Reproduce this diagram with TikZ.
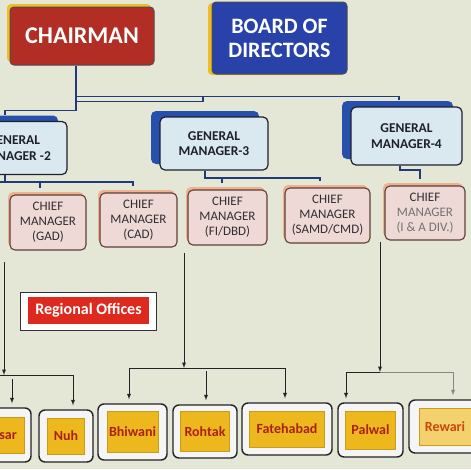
\documentclass[tikz,border=0pt]{standalone}
\usepackage{fontspec}
\setmainfont{Carlito}
\usetikzlibrary{shadows}

\definecolor{wall}{RGB}{229,231,214}
\definecolor{chairred}{RGB}{178,46,36}
\definecolor{boardblue}{RGB}{40,66,170}
\definecolor{shadeyellow}{RGB}{238,190,40}
\definecolor{gmfill}{RGB}{218,233,240}
\definecolor{gmshade}{RGB}{38,80,172}
\definecolor{gmtext}{RGB}{30,32,45}
\definecolor{navy}{RGB}{32,58,122}
\definecolor{cmfill}{RGB}{238,217,214}
\definecolor{cmshade}{RGB}{236,178,146}
\definecolor{cmline}{RGB}{95,62,55}
\definecolor{cmtext}{RGB}{50,45,50}
\definecolor{rored}{RGB}{222,42,30}
\definecolor{roffill}{RGB}{236,184,30}
\definecolor{roftext}{RGB}{172,32,22}
\definecolor{ink}{RGB}{35,35,35}

\tikzset{
  chairbox/.style={draw=black!70, line width=1pt, rounded corners=4pt, fill=chairred, text=white,
    font=\bfseries\fontsize{24}{26}\selectfont, minimum width=144pt, minimum height=58pt,
    general shadow={fill=shadeyellow, shadow xshift=-3pt, shadow yshift=3pt}},
  boardbox/.style={draw=black!70, line width=1pt, rounded corners=4pt, fill=boardblue, text=white, align=center,
    font=\bfseries\fontsize{22}{24}\selectfont, minimum width=135pt, minimum height=72pt,
    general shadow={fill=shadeyellow, shadow xshift=-4pt, shadow yshift=-1pt}},
  gmbox/.style={draw=gmtext, line width=1.2pt, rounded corners=5pt, fill=gmfill, text=gmtext, align=center,
    font=\bfseries\fontsize{13.5}{15.5}\selectfont, minimum height=53pt,
    general shadow={fill=gmshade, shadow xshift=-9pt, shadow yshift=6pt}},
  cmbox/.style={draw=cmline, line width=1.1pt, rounded corners=5pt, fill=cmfill, text=cmtext, align=center,
    font=\fontsize{13}{15}\selectfont, minimum height=55pt, inner sep=2pt,
    general shadow={fill=cmshade, shadow xshift=-2pt, shadow yshift=3pt}},
  roframe/.style={draw=black!80, line width=1pt, fill=white, minimum width=136pt, minimum height=38pt},
  rolabel/.style={fill=rored, text=white, font=\bfseries\fontsize{16}{18}\selectfont,
    minimum width=121pt, minimum height=27pt, inner sep=0pt},
  office/.style={draw=ink, line width=1.4pt, rounded corners=6pt, fill=white!96!black},
  officein/.style={draw=roffill!85!black, line width=0.4pt, fill=roffill, text=roftext,
    font=\bfseries\fontsize{14}{16}\selectfont, inner sep=0pt},
  link/.style={draw=navy, line width=1.8pt},
  trunk/.style={->, draw=ink, line width=0.9pt},
  feed/.style={->, draw=ink, line width=0.9pt, shorten >=4pt}
}

\begin{document}
\begin{tikzpicture}[x=1pt, y=-1pt, >=latex]
\useasboundingbox (0,0) rectangle (471,469);
\fill [wall] (0,0) rectangle (471,469);
\clip (0,0) rectangle (471,469);

% top row
\node [chairbox] (chair) at (82,36) {CHAIRMAN};
\node [boardbox] (board) at (279.5,38) {BOARD OF\\DIRECTORS};

% general managers
\node [gmbox, minimum width=106pt] (gm2) at (14,148) {GENERAL\\MANAGER -2};
\node [gmbox, minimum width=108pt] (gm3) at (214,143.5) {GENERAL\\MANAGER-3};
\node [gmbox, minimum width=111pt, minimum height=58pt] (gm4) at (406.5,136) {GENERAL\\MANAGER-4};

% chief managers
\node [cmbox, minimum width=76pt] (cmgad) at (48,222.5) {CHIEF\\MANAGER\\(GAD)};
\node [cmbox, minimum width=77pt, minimum height=54pt] (cmcad) at (138.5,220) {CHIEF\\MANAGER\\(CAD)};
\node [cmbox, minimum width=79pt] (cmfi) at (227.5,217.5) {CHIEF\\MANAGER\\(FI/DBD)};
\node [cmbox, minimum width=85pt] (cmsamd) at (327.5,215.5) {CHIEF\\MANAGER\\(SAMD/CMD)};
\node [cmbox, minimum width=80pt, minimum height=54pt] (cmia) at (425,213) {CHIEF\\{\color{black!55}MANAGER}\\{\color{black!55}(I \& A DIV.)}};

% label
\node [roframe] (roframe) at (88,311) {};
\node [rolabel] (ro) at (88.5,310.5) {Regional Offices};

% regional offices
\node [office, minimum width=58pt, minimum height=54pt] (hisar) at (2,435) {};
\node [officein, minimum width=44pt, minimum height=36pt] (hisartext) at (hisar) {Hisar};
\node [office, minimum width=54pt, minimum height=52pt] (nuh) at (66,436) {};
\node [officein, minimum width=37pt, minimum height=36pt] (nuhtext) at (nuh) {Nuh};
\node [office, minimum width=69pt, minimum height=56pt] (bhiwani) at (132.5,432) {};
\node [officein, minimum width=51pt, minimum height=41pt] (bhiwanitext) at (bhiwani) {Bhiwani};
\node [office, minimum width=64pt, minimum height=53pt] (rohtak) at (205,431.5) {};
\node [officein, minimum width=49pt, minimum height=40pt] (rohtaktext) at (rohtak) {Rohtak};
\node [office, minimum width=90pt, minimum height=52pt] (fatehabad) at (287,429) {};
\node [officein, minimum width=75pt, minimum height=36pt] (fatehabadtext) at (fatehabad) {Fatehabad};
\node [office, minimum width=65pt, minimum height=54pt] (palwal) at (370.5,430) {};
\node [officein, minimum width=50pt, minimum height=38pt] (palwaltext) at (palwal) {Palwal};
\node [office, minimum width=72pt, minimum height=53pt] (rewari) at (445,426.5) {};
\node [officein, minimum width=52pt, minimum height=37pt, fill=roffill!65!white, text=roftext!60!orange] (rewaritext) at (rewari) {Rewari};

% blue links
\draw [link] ([xshift=-6pt]chair.south) -- ++(0,45) -| ([xshift=-9pt,yshift=6pt]gm2.north);
\draw [link] ([xshift=-6pt,yshift=-36pt]chair.south) -- ++(127,0) -- ++(0,-5) -| ([xshift=-7.5pt,yshift=6pt]gm4.north);
\draw [link] ([xshift=-6pt,yshift=-31pt]chair.south) -- ++(127,0);

\draw [link] ([xshift=-9pt]gm2.south) -- ++(0,7) coordinate (gm2bar);
\draw [link] ([xshift=-20pt]gm2bar) -| ([xshift=-5.5pt,yshift=6pt]cmcad.north);
\draw [link] ([xshift=-8pt]cmgad.north |- gm2bar) -- ([xshift=-8pt,yshift=6pt]cmgad.north);

\draw [link] ([xshift=-9pt]gm3.south) -- ++(0,7) coordinate (gm3bar) -| ([xshift=-7.5pt,yshift=6pt]cmsamd.north);
\draw [link] ([xshift=-5.5pt]cmfi.north |- gm3bar) -- ([xshift=-5.5pt,yshift=6pt]cmfi.north);

\draw [link] ([xshift=-6.5pt]gm4.south) -- ++(0,4) -| ([xshift=-5pt,yshift=6pt]cmia.north);

% black arrows
\coordinate (westfeed) at (4,262);
\coordinate (westjoin) at (4,375);
\coordinate (midfeed) at (184,253);
\coordinate (midjoin) at (184,368);
\coordinate (eastfeed) at (380,242);
\coordinate (eastjoin) at (380,372);

\draw [trunk] (westfeed) -- (westjoin);
\draw [feed] ([xshift=-14pt]westjoin) -| ([xshift=7pt]nuh.north);
\draw [feed] ([xshift=10pt,yshift=28pt]hisar.north) -- ([xshift=10pt]hisar.north);

\draw [trunk] (midfeed) -- (midjoin);
\draw [feed] (midjoin) -| ([xshift=-3.5pt]bhiwani.north);
\draw [feed] (midjoin) -| ([xshift=-2pt]fatehabad.north);
\draw [feed] ([xshift=1pt,yshift=33pt]rohtak.north) -- ([xshift=1pt]rohtak.north);

\draw [trunk] (eastfeed) -- (eastjoin);
\draw [feed] (eastjoin) -| ([xshift=-24.5pt]palwal.north);
\draw [feed, draw=ink!55] (eastjoin) -| ([xshift=8pt]rewari.north);

\end{tikzpicture}
\end{document}
